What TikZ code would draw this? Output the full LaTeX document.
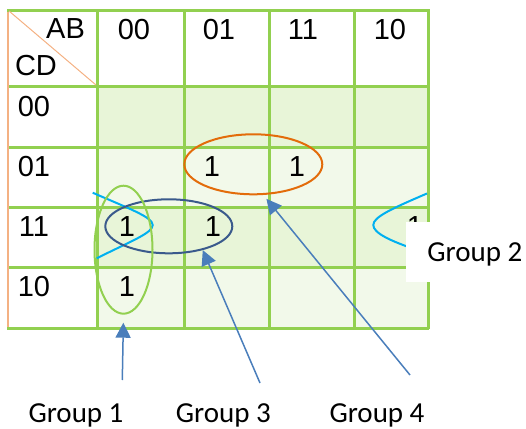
\documentclass[tikz,border=0pt]{standalone}
\usepackage{fontspec}
\setmainfont{Liberation Sans}
\newfontfamily\grpfont{Carlito}
\usetikzlibrary{arrows.meta,shapes.geometric}
\definecolor{gridgreen}{HTML}{92D050}
\definecolor{bandgreen}{HTML}{E8F5D8}
\definecolor{palegreen}{HTML}{F2F9EA}
\definecolor{edgeorange}{HTML}{F4B183}
\definecolor{grporange}{HTML}{E36C0A}
\definecolor{grpnavy}{HTML}{3A5A8C}
\definecolor{grpcyan}{HTML}{00B0F0}
\definecolor{arrowblue}{HTML}{4A7EBB}

\begin{document}
\begin{tikzpicture}[x=0.5pt,y=-0.5pt,
lbl/.style={inner sep=0pt,font=\fontsize{14.5}{17}\selectfont},
grp/.style={inner sep=0pt,anchor=base,font=\grpfont\fontsize{14.5}{17}\selectfont},
loop/.style={draw,ellipse,inner sep=0pt,line width=1pt},
gline/.style={draw=gridgreen,line width=1.5pt},
arr/.style={-{Triangle[length=7.5pt,width=7.5pt]},color=arrowblue,line width=0.75pt}]
\useasboundingbox (0,0) rectangle (526,429);
% cell shading
\foreach \ya/\yb/\c in {86/147/bandgreen,147/207/palegreen,207/267/bandgreen,267/328/palegreen}
  \fill[\c] (97,\ya) rectangle (428,\yb);
% grid
\foreach \y in {86,147,207,267}
  \draw[gline] (9,\y) -- (429,\y);
\foreach \x in {97,184,269,354,428}
  \draw[gline] (\x,9) -- (\x,329);
\draw[edgeorange,line width=1pt] (8,10) -- (8,328);
\draw[gline] (7,10) -- (429,10);
\draw[gline] (7,328) -- (429,328);
\draw[edgeorange,line width=0.5pt] (9,11) -- (96,85);
% variable names and codes
\node[lbl] (ab) at (65.5,29) {AB};
\node[lbl] (cd) at (36,66) {CD};
\foreach \lab/\x [count=\i] in {00/134,01/219,11/303,10/390}
  \node[lbl] (col\i) at (\x,30) {\lab};
\foreach \lab/\y [count=\i] in {00/107,01/167,11/227,10/287}
  \node[lbl] (row\i) at (34,\y) {\lab};
% minterms
\node[lbl] (m5) at (212,167) {1};
\node[lbl] (m13) at (297,167) {1};
\node[lbl] (m3) at (127,227) {1};
\node[lbl] (m7) at (213,227) {1};
\node[lbl] (m11) at (415,227) {1};
\node[lbl] (m2) at (127,287) {1};
% group 2 wraps round the edges
\draw[grpcyan,line width=1pt] (92.7,192.7) .. controls (127.7,208.1) and (152.7,217) .. (152.7,225)
  .. controls (152.7,233) and (131.7,240.8) .. (96.7,258.3);
\draw[grpcyan,line width=1pt] (427,193.5) .. controls (392,208.5) and (373.3,217) .. (373.3,225)
  .. controls (373.3,233) and (390,241) .. (420,251);
% groups
\node[loop,draw=grpnavy,minimum width=63.5pt,minimum height=27pt] (g3) at (168.8,226.3) {};
\node[loop,draw=gridgreen,minimum width=29pt,minimum height=64pt] (g1) at (123.5,249.7) {};
\node[loop,draw=grporange,minimum width=69pt,minimum height=30pt] (g4) at (253.3,164.3) {};
% label box over the right edge
\fill[white] (406,222) rectangle (526,282);
\node[grp,anchor=base west] (lbl2) at (427,261.7) {Group 2};
% labels and arrows
\node[grp] (lbl1) at (76,422) {Group 1};
\node[grp] (lbl3) at (223.3,422) {Group 3};
\node[grp] (lbl4) at (377,422) {Group 4};
\coordinate (t1) at (122.3,380);
\coordinate (t3) at (260,383);
\coordinate (t4) at (410,375);
\draw[arr,shorten >=4pt] (t1) -- (g1.south);
\draw[arr] (t3) -- (g3.-35);
\draw[arr,shorten >=2.5pt] (t4) -- (g4.-72);
\end{tikzpicture}
\end{document}
